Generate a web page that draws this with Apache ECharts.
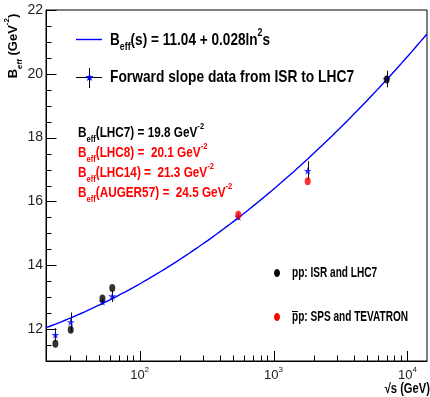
<!DOCTYPE html>
<html>
<head>
<meta charset="utf-8">
<script src="https://cdn.jsdelivr.net/npm/echarts@6/dist/echarts.min.js"></script>
<style>
  html, body { margin: 0; padding: 0; background: #fff; }
  #chart { width: 430px; height: 397px; }
</style>
</head>
<body>
<div id="chart"></div>
<script>
// Axis ranges
const SQRT_S_MIN = 20;
const SQRT_S_MAX = 14000;
const B_MIN = 11;
const B_MAX = 22;

// Fit: B_eff(s) = A + C * ln^2(s)
const FIT_A = 11.04;
const FIT_C = 0.028;

// Forward slope data (blue stars with vertical errors)
const slopeSqrtS = [23.5, 30.6, 52.8, 62.5, 546, 1800, 7000];
const slopeB     = [11.82, 12.22, 12.86, 13.03, 15.52, 16.96, 19.84];
const slopeErr   = [0.21, 0.30, 0.10, 0.18, 0.10, 0.30, 0.26];

// pp: ISR and LHC7
const ppSqrtS = [23.5, 30.6, 52.8, 62.5, 7000];
const ppB     = [11.54, 11.98, 12.96, 13.29, 19.82];

// pbar-p: SPS and TEVATRON
const pbarpSqrtS = [546, 1800];
const pbarpB     = [15.58, 16.63];

// Tick positions
const xMajorTicks = [100, 1000, 10000];
const xMinorMult = [2, 3, 4, 5, 6, 7, 8, 9];
const xDecades = [10, 100, 1000];
const yMajorTicks = [12, 14, 16, 18, 20, 22];
const yMinorTicks = [11.5, 12.5, 13, 13.5, 14.5, 15, 15.5, 16.5, 17, 17.5, 18.5, 19, 19.5, 20.5, 21, 21.5];

const BOLD = 'Liberation Sans, Arial, Helvetica, sans-serif';
const NARROW = 'Liberation Sans Narrow, Arial Narrow, Liberation Sans, sans-serif';
const BLUE = '#0000ff';
const RED = '#ff0000';

// Fit curve sampled on a log grid over the visible range
const curveData = [];
for (let i = 0; i <= 240; i++) {
  const lx = Math.log10(SQRT_S_MIN) + (Math.log10(SQRT_S_MAX) - Math.log10(SQRT_S_MIN)) * i / 240;
  const rs = Math.pow(10, lx);
  const ls = Math.log(rs * rs);
  curveData.push([rs, FIT_A + FIT_C * ls * ls]);
}

const xTickData = xMajorTicks.map(v => [v, B_MIN, 10]);
xDecades.forEach(d => xMinorMult.forEach(m => {
  const v = d * m;
  if (v >= SQRT_S_MIN && v <= SQRT_S_MAX) xTickData.push([v, B_MIN, 5.5]);
}));
const yTickData = yMajorTicks.map(v => [SQRT_S_MIN, v, 10.5]).concat(yMinorTicks.map(v => [SQRT_S_MIN, v, 5.5]));

const starPath = 'path://M50,0 L61,35 L98,35 L68,57 L79,91 L50,70 L21,91 L32,57 L2,35 L39,35 Z';
const dotPath = 'path://M0,40 A30,40 0 1,1 60,40 A30,40 0 1,1 0,40 Z';

function crisp(v) { return Math.round(v) + 0.5; }

function starPoints(cx, cy, rOuter, rInner) {
  const pts = [];
  for (let k = 0; k < 10; k++) {
    const r = k % 2 === 0 ? rOuter : rInner;
    const a = -Math.PI / 2 + k * Math.PI / 5;
    pts.push([cx + r * Math.cos(a), cy + r * Math.sin(a)]);
  }
  return pts;
}

function richText(size, color) {
  return {
    m: { fontSize: size, fontWeight: 'bold', fontFamily: BOLD, color: color, lineHeight: size + 8, verticalAlign: 'middle' },
    s: { fontSize: Math.round(size * 0.62), fontWeight: 'bold', fontFamily: BOLD, color: color, lineHeight: Math.round(size * 0.62), verticalAlign: 'bottom' },
    p: { fontSize: Math.round(size * 0.62), fontWeight: 'bold', fontFamily: BOLD, color: color, lineHeight: Math.round(size * 0.62), verticalAlign: 'top' }
  };
}

function label(x, y, text, size, color, sx, align) {
  return {
    type: 'text', x: x, y: y, scaleX: sx, z: 100,
    style: { text: text, rich: richText(size, color), textAlign: align || 'left', textVerticalAlign: 'middle', fill: color }
  };
}

const chart = echarts.init(document.getElementById('chart'), null, { renderer: 'canvas' });

const option = {
  animation: false,
  backgroundColor: '#fff',
  grid: { left: 46, right: 1, top: 10, bottom: 36, show: true, borderColor: '#000', borderWidth: 1 },
  xAxis: {
    type: 'log', logBase: 10, min: SQRT_S_MIN, max: SQRT_S_MAX,
    axisLine: { lineStyle: { color: '#000', width: 1 } },
    axisTick: { show: false },
    splitLine: { show: false },
    axisLabel: {
      margin: 5,
      formatter: function (v) {
        const e = Math.round(Math.log10(v));
        if (Math.abs(Math.log10(v) - e) > 1e-6) return '';
        return '{b|10}{e|' + e + '}';
      },
      rich: {
        b: { fontSize: 13, fontFamily: NARROW, color: '#222', lineHeight: 16, verticalAlign: 'bottom' },
        e: { fontSize: 8, fontFamily: NARROW, color: '#222', lineHeight: 8, verticalAlign: 'top' }
      }
    }
  },
  yAxis: {
    type: 'value', min: B_MIN, max: B_MAX, interval: 1,
    axisLine: { lineStyle: { color: '#000', width: 1 } },
    axisTick: { show: false },
    splitLine: { show: false },
    axisLabel: {
      margin: 3, fontSize: 14, fontFamily: NARROW, color: '#222',
      formatter: function (v) { return v % 2 === 0 ? String(v) : ''; }
    }
  },
  series: [
    {
      type: 'custom', silent: true, clip: false, z: 5,
      encode: { x: 0, y: 1 },
      data: xTickData,
      renderItem: function (params, api) {
        const p = api.coord([api.value(0), api.value(1)]);
        const x = crisp(p[0]);
        return { type: 'line', shape: { x1: x, y1: p[1], x2: x, y2: p[1] - api.value(2) }, style: { stroke: '#000', lineWidth: 1 } };
      }
    },
    {
      type: 'custom', silent: true, clip: false, z: 5,
      encode: { x: 0, y: 1 },
      data: yTickData,
      renderItem: function (params, api) {
        const p = api.coord([api.value(0), api.value(1)]);
        const y = crisp(p[1]);
        return { type: 'line', shape: { x1: p[0], y1: y, x2: p[0] + api.value(2), y2: y }, style: { stroke: '#000', lineWidth: 1 } };
      }
    },
    {
      type: 'line', data: curveData, showSymbol: false, silent: true, z: 2,
      lineStyle: { color: BLUE, width: 1.4 }
    },
    {
      type: 'custom', silent: true, z: 3,
      encode: { x: 0, y: 1 },
      data: slopeSqrtS.map((v, i) => [v, slopeB[i], slopeErr[i]]),
      renderItem: function (params, api) {
        const x = api.value(0), y = api.value(1), e = api.value(2);
        const lo = api.coord([x, y - e]);
        const hi = api.coord([x, y + e]);
        const cx = crisp(lo[0]);
        return { type: 'line', shape: { x1: cx, y1: lo[1], x2: cx, y2: hi[1] }, style: { stroke: '#111', lineWidth: 1 } };
      }
    },
    {
      type: 'scatter', silent: true, z: 4,
      data: slopeSqrtS.map((v, i) => [v, slopeB[i]]),
      symbol: starPath, symbolSize: [8, 8],
      itemStyle: { color: BLUE }
    },
    {
      type: 'scatter', silent: true, z: 6,
      data: ppSqrtS.map((v, i) => [v, ppB[i]]),
      symbol: dotPath, symbolSize: [6, 8],
      itemStyle: { color: '#000' }
    },
    {
      type: 'scatter', silent: true, z: 6,
      data: pbarpSqrtS.map((v, i) => [v, pbarpB[i]]),
      symbol: dotPath, symbolSize: [6, 8],
      itemStyle: { color: RED }
    }
  ],
  graphic: [
    // fit legend entry
    { type: 'line', z: 100, shape: { x1: 76, y1: 39.5, x2: 102, y2: 39.5 }, style: { stroke: BLUE, lineWidth: 1.4 } },
    label(110, 40, '{m|B}{s|eff}{m|(s) = 11.04 + 0.028ln}{p|2}{m|s}', 17, '#000', 0.8),
    // data legend entry
    { type: 'line', z: 100, shape: { x1: 76, y1: 77.5, x2: 102, y2: 77.5 }, style: { stroke: '#000', lineWidth: 1 } },
    { type: 'line', z: 100, shape: { x1: 89.5, y1: 68, x2: 89.5, y2: 88 }, style: { stroke: '#000', lineWidth: 1 } },
    { type: 'polygon', z: 101, shape: { points: starPoints(89.5, 77.5, 4.2, 1.8) }, style: { fill: BLUE } },
    label(110, 77, '{m|Forward slope data from ISR to LHC7}', 17, '#000', 0.81),
    // predictions
    label(78, 133, '{m|B}{s|eff}{m|(LHC7) = 19.8 GeV}{p|-2}', 14, '#000', 0.84),
    label(78, 153, '{m|B}{s|eff}{m|(LHC8) =  20.1 GeV}{p|-2}', 14, RED, 0.84),
    label(78, 173, '{m|B}{s|eff}{m|(LHC14) =  21.3 GeV}{p|-2}', 14, RED, 0.84),
    label(78, 193, '{m|B}{s|eff}{m|(AUGER57) =  24.5 GeV}{p|-2}', 14, RED, 0.84),
    // collision type legend
    { type: 'ellipse', z: 100, shape: { cx: 277, cy: 273, rx: 3, ry: 4 }, style: { fill: '#000' } },
    label(292, 273, '{m|pp: ISR and LHC7}', 14, '#000', 0.72),
    { type: 'ellipse', z: 100, shape: { cx: 277, cy: 317, rx: 3, ry: 4 }, style: { fill: RED } },
    label(292, 317, '{m|pp: SPS and TEVATRON}', 14, '#000', 0.72),
    { type: 'line', z: 100, shape: { x1: 292, y1: 311.5, x2: 298, y2: 311.5 }, style: { stroke: '#000', lineWidth: 1 } },
    // axis titles
    label(430, 389, '{m|√s (GeV)}', 14, '#000', 0.8, 'right'),
    {
      type: 'text', x: 13, y: 46, rotation: Math.PI / 2, z: 100,
      style: { text: '{m|B}{s|eff}{m| (GeV}{p|-2}{m|)}', rich: richText(13, '#000'), textAlign: 'center', textVerticalAlign: 'middle' }
    }
  ]
};

chart.setOption(option);
</script>
</body>
</html>
